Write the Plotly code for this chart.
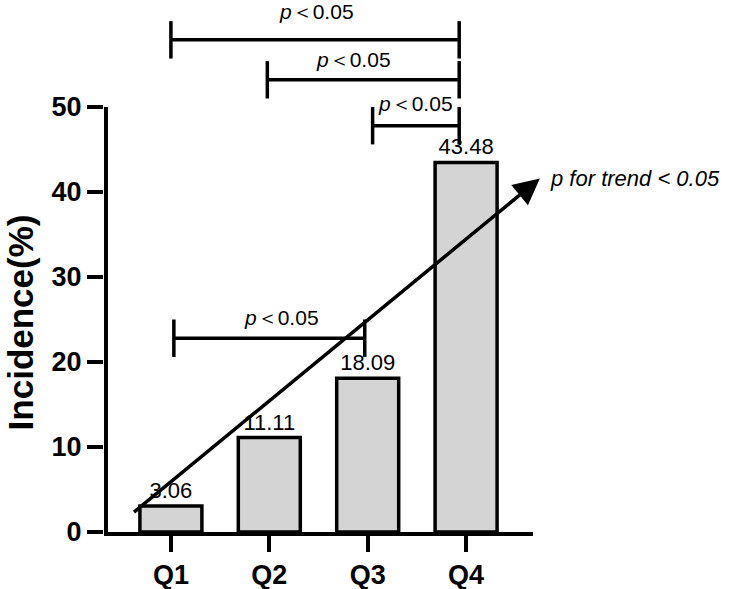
import plotly.graph_objects as go

# ---- data ----
groups = ["Q1", "Q2", "Q3", "Q4"]
incidence = [3.06, 11.11, 18.09, 43.48]
y_ticks = [0, 10, 20, 30, 40, 50]

# significance brackets: start/end (category units), height (%), label position
bracket_x0 = [0.0, 0.98, 2.05, 0.03]
bracket_x1 = [2.93, 2.93, 2.93, 1.97]
bracket_y = [57.9, 53.2, 47.8, 22.8]
bracket_label_x = [1.48, 1.86, 2.49, 1.12]
bracket_label_y = [61.2, 55.6, 50.4, 25.2]
bracket_text = "<i>p</i>＜0.05"

# trend arrow (tail -> head) and label
trend_tail = (-0.39, 2.2)
trend_head = (3.75, 41.6)
trend_text = "<i>p for trend &lt; 0.05</i>"

FONT = "Liberation Sans, Arial, sans-serif"

fig = go.Figure()
fig.add_bar(
    x=groups, y=incidence, width=0.63,
    marker=dict(color="#d4d4d4", line=dict(color="black", width=3.5)),
    text=[f"{v:.2f}" for v in incidence], textposition="outside",
    textfont=dict(family=FONT, size=22, color="black"),
    cliponaxis=False,
)

shapes = []
# y axis line only from 0 to 50
shapes.append(dict(type="line", xref="x", yref="y", x0=-0.66, x1=-0.66, y0=0, y1=50,
                   line=dict(color="black", width=4)))
h = 2.2
for x0, x1, y in zip(bracket_x0, bracket_x1, bracket_y):
    for (a0, a1, b0, b1) in [(x0, x1, y, y), (x0, x0, y - h, y + h), (x1, x1, y - h, y + h)]:
        shapes.append(dict(type="line", xref="x", yref="y", x0=a0, x1=a1, y0=b0, y1=b1,
                           line=dict(color="black", width=3.5)))

annotations = []
for lx, ly in zip(bracket_label_x, bracket_label_y):
    annotations.append(dict(x=lx, y=ly, xref="x", yref="y", text=bracket_text, showarrow=False,
                            yanchor="middle",
                            font=dict(family=FONT, size=21, color="black")))
annotations.append(dict(x=trend_head[0], y=trend_head[1], ax=trend_tail[0], ay=trend_tail[1],
                        xref="x", yref="y", axref="x", ayref="y", text="", showarrow=True,
                        arrowhead=2, arrowsize=1.5, arrowwidth=3.5, arrowcolor="black"))
annotations.append(dict(x=1.035, y=trend_head[1], xref="paper", yref="y", text=trend_text,
                        showarrow=False, xanchor="left", yanchor="middle",
                        font=dict(family=FONT, size=22, color="black")))
annotations.append(dict(x=-0.195, y=24.7, xref="paper", yref="y", text="Incidence(%)",
                        textangle=-90, showarrow=False, xanchor="center", yanchor="middle",
                        font=dict(family=FONT, size=35, color="black", weight="bold")))

fig.update_layout(
    width=735, height=589,
    margin=dict(l=104, r=202, t=5, b=57),
    plot_bgcolor="white", paper_bgcolor="white",
    showlegend=False,
    shapes=shapes, annotations=annotations,
    xaxis=dict(type="category", range=[-0.68, 3.68], showline=True, linewidth=4,
               linecolor="black", ticks="outside", ticklen=16, tickwidth=3.5,
               tickcolor="black", showgrid=False, zeroline=False, automargin=False,
               tickfont=dict(family=FONT, size=27, color="black", weight="bold")),
    yaxis=dict(range=[0, 62], tickvals=y_ticks, showline=False, ticks="outside",
               ticklen=16, tickwidth=3.5, tickcolor="black", showgrid=False,
               zeroline=False, automargin=False,
               tickfont=dict(family=FONT, size=27, color="black", weight="bold")),
)

fig.write_html("out.html", config={"displayModeBar": False},
               post_script="document.body.style.margin='0';")
